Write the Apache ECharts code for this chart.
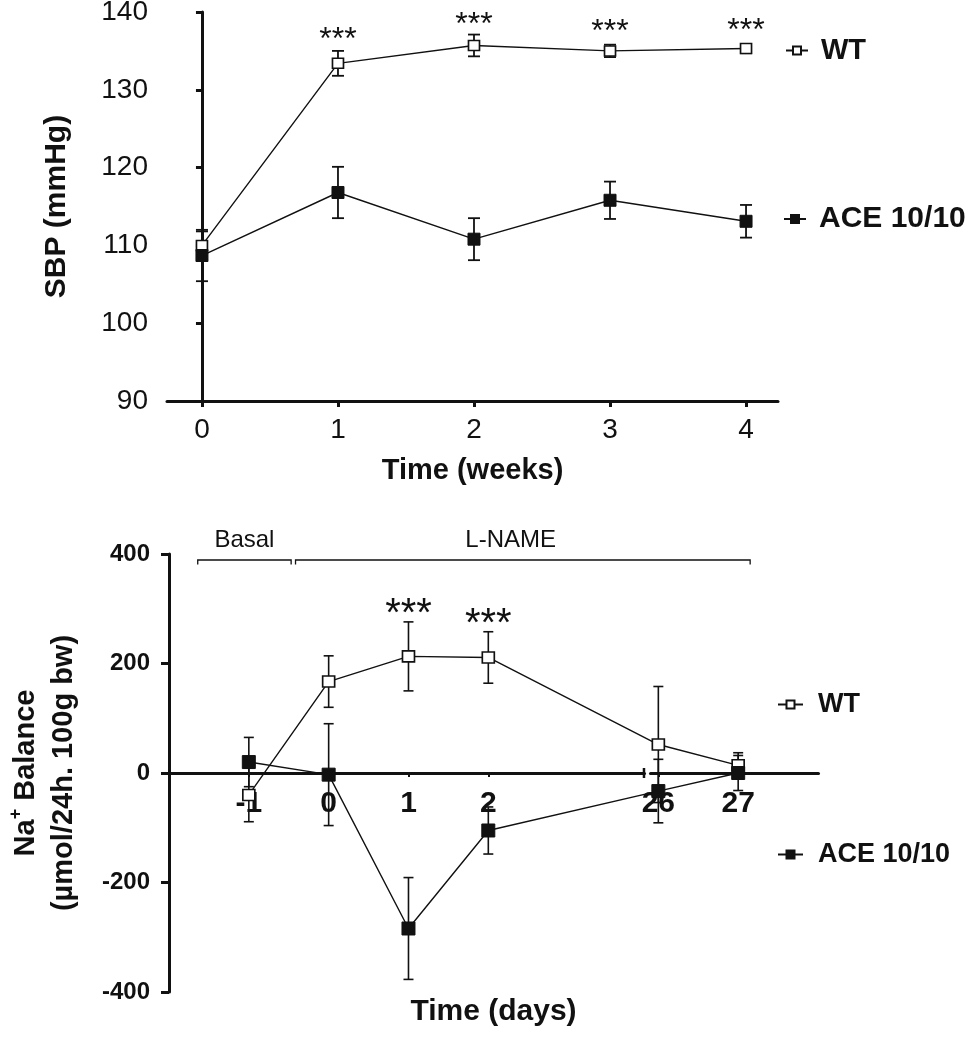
<!DOCTYPE html>
<html><head><meta charset="utf-8">
<script src="https://cdn.jsdelivr.net/npm/echarts@6/dist/echarts.min.js"></script>
<style>html,body{margin:0;padding:0;background:#fff}#c{width:968px;height:1050px}</style>
</head><body><div id="c"></div>
<script>
// ---------- data: top panel (SBP) ----------
const weeks = [0, 1, 2, 3, 4];
const sbpWT = [110.0, 133.4, 135.7, 135.0, 135.3];
const sbpWTerr = [1.8, 1.6, 1.4, 0.8, 0.6];
const sbpACE = [108.7, 116.8, 110.8, 115.8, 113.1];
const sbpACEerr = [3.3, 3.3, 2.7, 2.4, 2.1];
const sbpSigWeeks = [1, 2, 3, 4];
const sbpSigY = [137.3, 139.2, 138.3, 138.5];

// ---------- data: bottom panel (Na+ balance) ----------
const days = [-1, 0, 1, 2, 26, 27];
const naWT = [-40, 167, 213, 211, 52, 14];
const naWTerr = [49, 47, 63, 47, 106, 23];
const naACE = [20, -3, -284, -105, -33, 0];
const naACEerr = [45, 93, 93, 43, 58, 32];
const naSigDays = [1, 2];
const naSigY = [305, 287];
const phaseNames = ['Basal', 'L-NAME'];
const phaseStart = [-1.64, -0.415];
const phaseEnd = [-0.47, 27.15];
const dayTicks = [-1, 0, 1, 2, 26, 27];
const weekTicks = [0, 1, 2, 3, 4];

const FONT = '"Liberation Sans", Arial, sans-serif';
const INK = '#111';

function errRender(cap, lw) {
  return function (params, api) {
    const x = api.value(0), y = api.value(1), e = api.value(2);
    const t = api.coord([x, y + e]), b = api.coord([x, y - e]);
    const st = { stroke: INK, lineWidth: lw, fill: null };
    return { type: 'group', children: [
      { type: 'line', shape: { x1: t[0], y1: t[1], x2: b[0], y2: b[1] }, style: st },
      { type: 'line', shape: { x1: t[0] - cap / 2, y1: t[1], x2: t[0] + cap / 2, y2: t[1] }, style: st },
      { type: 'line', shape: { x1: b[0] - cap / 2, y1: b[1], x2: b[0] + cap / 2, y2: b[1] }, style: st }
    ]};
  };
}
function sigRender(fs) {
  return function (params, api) {
    const p = api.coord([api.value(0), api.value(1)]);
    return { type: 'text', x: p[0], y: p[1] + fs * 0.22,
      style: { text: '***', fontSize: fs, fontFamily: FONT, fill: INK, align: 'center', verticalAlign: 'middle' } };
  };
}
function bracketRender(params, api) {
  const s = api.value(0), e = api.value(1);
  const a = api.coord([s, 389]), b = api.coord([e, 389]);
  const a2 = api.coord([s, 381]);
  const dy = a2[1] - a[1];
  const mid = api.coord([params.dataIndex === 0 ? (s + e) / 2 : 2.28, 424]);
  const st = { stroke: INK, lineWidth: 1.3, fill: null };
  return { type: 'group', children: [
    { type: 'polyline', shape: { points: [[a[0], a[1] + dy], [a[0], a[1]], [b[0], b[1]], [b[0], b[1] + dy]] }, style: st },
    { type: 'text', x: mid[0], y: mid[1], style: { text: phaseNames[params.dataIndex], fontSize: 24, fontFamily: FONT, fill: INK, align: 'center', verticalAlign: 'middle' } }
  ]};
}

const lineWT = { color: INK, width: 1.4 };
const itemWT = { color: '#fff', borderColor: INK, borderWidth: 1.6 };
const itemACE = { color: INK, borderColor: INK, borderWidth: 1 };

const chart = echarts.init(document.getElementById('c'), null, { renderer: 'canvas' });
chart.setOption({
  animation: false,
  backgroundColor: '#fff',
  textStyle: { fontFamily: FONT },
  grid: [
    { left: 167, right: 190, top: 12, bottom: 649, outerBoundsMode: 'none', containLabel: false },
    { left: 169, right: 150, top: 554, bottom: 58, outerBoundsMode: 'none', containLabel: false }
  ],
  legend: [
    { data: ['WT'], left: 785, top: 36, itemWidth: 22, itemHeight: 10, selectedMode: false, padding: 0,
      textStyle: { fontSize: 29, fontWeight: 'bold', color: INK, fontFamily: FONT, padding: [0, 0, 0, 8] } },
    { data: ['ACE 10/10'], left: 783, top: 204, itemWidth: 22, itemHeight: 10, selectedMode: false, padding: 0,
      textStyle: { fontSize: 30, fontWeight: 'bold', color: INK, fontFamily: FONT, padding: [0, 0, 0, 8] } },
    { data: ['WT'], left: 777, top: 691, itemWidth: 25, itemHeight: 10, selectedMode: false, padding: 0,
      textStyle: { fontSize: 27, fontWeight: 'bold', color: INK, fontFamily: FONT, padding: [0, 0, 0, 10] } },
    { data: ['ACE 10/10'], left: 777, top: 841, itemWidth: 25, itemHeight: 10, selectedMode: false, padding: 0,
      textStyle: { fontSize: 27, fontWeight: 'bold', color: INK, fontFamily: FONT, padding: [0, 0, 0, 10] } }
  ],
  xAxis: [
    { gridIndex: 0, type: 'value', min: -0.257, max: 4.235,
      name: 'Time (weeks)', nameLocation: 'middle', nameGap: 55, nameMoveOverlap: false,
      nameTextStyle: { fontSize: 29, fontWeight: 'bold', color: INK, fontFamily: FONT },
      axisLine: { lineStyle: { color: INK, width: 3 } },
      axisTick: { customValues: weekTicks, length: 6, lineStyle: { color: INK, width: 3 } },
      axisLabel: { customValues: weekTicks, margin: 15, fontSize: 28, color: INK, fontFamily: FONT },
      splitLine: { show: false } },
    { gridIndex: 1, type: 'value', min: -2, max: 28,
      breaks: [{ start: 3.95, end: 25.9, gap: 0.08 }],
      breakArea: { show: false },
      name: 'Time (days)', nameLocation: 'middle', nameGap: 5, nameMoveOverlap: false,
      nameTextStyle: { fontSize: 30, fontWeight: 'bold', color: INK, fontFamily: FONT },
      axisLine: { onZero: true, lineStyle: { color: INK, width: 3 } },
      axisTick: { customValues: dayTicks, length: 4, lineStyle: { color: INK, width: 2 } },
      axisLabel: { customValues: dayTicks, margin: -203, fontSize: 30, fontWeight: 'bold', color: INK, fontFamily: FONT },
      splitLine: { show: false } }
  ],
  yAxis: [
    { gridIndex: 0, type: 'value', min: 90, max: 140, interval: 10,
      name: 'SBP (mmHg)', nameLocation: 'middle', nameGap: 95, nameRotate: 90,
      nameTextStyle: { fontSize: 30, fontWeight: 'bold', color: INK, fontFamily: FONT },
      axisLine: { show: true, lineStyle: { color: INK, width: 3 } },
      axisTick: { show: true, length: 6, lineStyle: { color: INK, width: 3 } },
      axisLabel: { margin: 19, fontSize: 28, color: INK, fontFamily: FONT },
      splitLine: { show: false } },
    { gridIndex: 1, type: 'value', min: -400, max: 400, interval: 200,
      name: 'Na{sup|+} Balance\n(µmol/24h. 100g bw)', nameLocation: 'middle', nameGap: 86, nameRotate: 90,
      nameTextStyle: { fontSize: 29, fontWeight: 'bold', color: INK, fontFamily: FONT, lineHeight: 38, align: 'center',
        rich: { sup: { fontSize: 18, fontWeight: 'bold', color: INK, fontFamily: FONT, verticalAlign: 'top', lineHeight: 38 } } },
      axisLine: { show: true, onZero: false, lineStyle: { color: INK, width: 3 } },
      axisTick: { show: true, length: 8, lineStyle: { color: INK, width: 3 } },
      axisLabel: { margin: 19, fontSize: 24, fontWeight: 'bold', color: INK, fontFamily: FONT },
      splitLine: { show: false } }
  ],
  series: [
    // top panel
    { type: 'custom', name: 'errWT1', xAxisIndex: 0, yAxisIndex: 0, z: 1, renderItem: errRender(12, 1.8),
      data: weeks.map((w, i) => [w, sbpWT[i], sbpWTerr[i]]) },
    { type: 'custom', name: 'errACE1', xAxisIndex: 0, yAxisIndex: 0, z: 1, renderItem: errRender(12, 1.8),
      data: weeks.map((w, i) => [w, sbpACE[i], sbpACEerr[i]]) },
    { type: 'line', name: 'WT', xAxisIndex: 0, yAxisIndex: 0, z: 3, symbol: 'rect', symbolSize: [11, 10],
      lineStyle: lineWT, itemStyle: itemWT, data: weeks.map((w, i) => [w, sbpWT[i]]) },
    { type: 'line', name: 'ACE 10/10', xAxisIndex: 0, yAxisIndex: 0, z: 3, symbol: 'rect', symbolSize: [12, 12],
      lineStyle: lineWT, itemStyle: itemACE, data: weeks.map((w, i) => [w, sbpACE[i]]) },
    { type: 'custom', name: 'sig1', xAxisIndex: 0, yAxisIndex: 0, z: 4, renderItem: sigRender(32),
      data: sbpSigWeeks.map((w, i) => [w, sbpSigY[i]]) },
    // bottom panel
    { type: 'custom', name: 'errWT2', xAxisIndex: 1, yAxisIndex: 1, z: 1, renderItem: errRender(10, 1.6),
      data: days.map((d, i) => [d, naWT[i], naWTerr[i]]) },
    { type: 'custom', name: 'errACE2', xAxisIndex: 1, yAxisIndex: 1, z: 1, renderItem: errRender(10, 1.6),
      data: days.map((d, i) => [d, naACE[i], naACEerr[i]]) },
    { type: 'line', name: 'WT', xAxisIndex: 1, yAxisIndex: 1, z: 3, symbol: 'rect', symbolSize: [12, 11],
      lineStyle: lineWT, itemStyle: itemWT, data: days.map((d, i) => [d, naWT[i]]) },
    { type: 'line', name: 'ACE 10/10', xAxisIndex: 1, yAxisIndex: 1, z: 3, symbol: 'rect', symbolSize: [13, 13],
      lineStyle: lineWT, itemStyle: itemACE, data: days.map((d, i) => [d, naACE[i]]) },
    { type: 'custom', name: 'sig2', xAxisIndex: 1, yAxisIndex: 1, z: 4, renderItem: sigRender(40),
      data: naSigDays.map((d, i) => [d, naSigY[i]]) },
    { type: 'custom', name: 'phases', xAxisIndex: 1, yAxisIndex: 1, z: 4, clip: false, renderItem: bracketRender,
      data: phaseStart.map((s, i) => [s, phaseEnd[i]]) },
    { type: 'custom', name: 'breakMark', xAxisIndex: 1, yAxisIndex: 1, z: 4, clip: false,
      renderItem: function (params, api) {
        const p = api.coord([api.value(0), 0]);
        return { type: 'line', shape: { x1: p[0], y1: p[1] - 5, x2: p[0], y2: p[1] + 5 }, style: { stroke: INK, lineWidth: 2.5 } };
      },
      data: [[3.97]] }
  ]
});
</script></body></html>
